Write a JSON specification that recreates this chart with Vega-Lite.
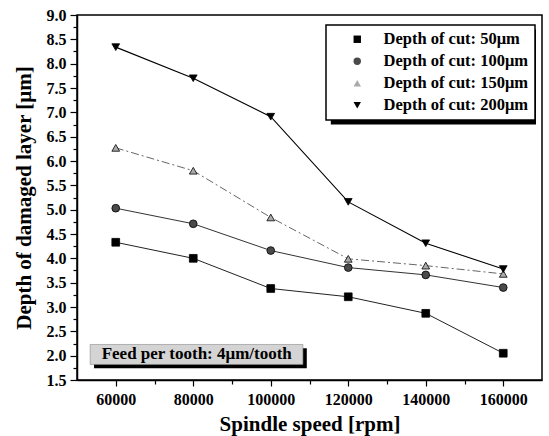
{
  "$schema": "https://vega.github.io/schema/vega-lite/v6.json",
  "width": 465,
  "height": 365,
  "autosize": {"type": "none"},
  "padding": {"left": 77, "top": 15, "right": 7, "bottom": 56},
  "background": "white",
  "config": {
    "font": "Liberation Serif",
    "view": {"stroke": "black", "strokeWidth": 1.5},
    "axis": {
      "grid": false,
      "domainColor": "black",
      "domainWidth": 1.5,
      "tickColor": "black",
      "tickWidth": 1.2,
      "labelFont": "Liberation Serif",
      "labelFontWeight": "bold",
      "labelFontSize": 16,
      "labelColor": "black",
      "titleFont": "Liberation Serif",
      "titleFontWeight": "bold",
      "titleFontSize": 21,
      "titleColor": "black"
    },
    "legend": {
      "padding": 6,
      "fillColor": "white",
      "strokeColor": "black",
      "strokeWidth": 1.5,
      "labelFont": "Liberation Serif",
      "labelFontWeight": "bold",
      "labelFontSize": 16.5,
      "labelColor": "black",
      "labelOffset": 18,
      "symbolOffset": 17,
      "rowPadding": 5,
      "symbolSize": 55,
      "symbolStrokeColor": "black",
      "symbolStrokeWidth": 0.8
    }
  },
  "datasets": {
    "depth": [
      {"speed": 60000, "cut": "Depth of cut: 50μm", "depth": 4.33},
      {"speed": 80000, "cut": "Depth of cut: 50μm", "depth": 4.0},
      {"speed": 100000, "cut": "Depth of cut: 50μm", "depth": 3.38},
      {"speed": 120000, "cut": "Depth of cut: 50μm", "depth": 3.21},
      {"speed": 140000, "cut": "Depth of cut: 50μm", "depth": 2.87},
      {"speed": 160000, "cut": "Depth of cut: 50μm", "depth": 2.05},
      {"speed": 60000, "cut": "Depth of cut: 100μm", "depth": 5.03},
      {"speed": 80000, "cut": "Depth of cut: 100μm", "depth": 4.71},
      {"speed": 100000, "cut": "Depth of cut: 100μm", "depth": 4.16},
      {"speed": 120000, "cut": "Depth of cut: 100μm", "depth": 3.81},
      {"speed": 140000, "cut": "Depth of cut: 100μm", "depth": 3.66},
      {"speed": 160000, "cut": "Depth of cut: 100μm", "depth": 3.4},
      {"speed": 60000, "cut": "Depth of cut: 150μm", "depth": 6.27},
      {"speed": 80000, "cut": "Depth of cut: 150μm", "depth": 5.8},
      {"speed": 100000, "cut": "Depth of cut: 150μm", "depth": 4.84},
      {"speed": 120000, "cut": "Depth of cut: 150μm", "depth": 3.99},
      {"speed": 140000, "cut": "Depth of cut: 150μm", "depth": 3.85},
      {"speed": 160000, "cut": "Depth of cut: 150μm", "depth": 3.68},
      {"speed": 60000, "cut": "Depth of cut: 200μm", "depth": 8.34},
      {"speed": 80000, "cut": "Depth of cut: 200μm", "depth": 7.7},
      {"speed": 100000, "cut": "Depth of cut: 200μm", "depth": 6.91},
      {"speed": 120000, "cut": "Depth of cut: 200μm", "depth": 5.16},
      {"speed": 140000, "cut": "Depth of cut: 200μm", "depth": 4.31},
      {"speed": 160000, "cut": "Depth of cut: 200μm", "depth": 3.78}
    ],
    "one": [{}]
  },
  "resolve": {"axis": {"x": "independent", "y": "independent"}},
  "layer": [
    {
      "description": "drop shadow behind the legend box",
      "data": {"name": "one"},
      "mark": {"type": "rect", "color": "black"},
      "encoding": {
        "x": {"datum": 115500, "type": "quantitative", "axis": null},
        "x2": {"datum": 168450},
        "y": {"datum": 8.7, "type": "quantitative", "axis": null},
        "y2": {"datum": 6.75}
      }
    },
    {
      "description": "drop shadow of the feed note",
      "data": {"name": "one"},
      "mark": {"type": "rect", "color": "black"},
      "encoding": {
        "x": {"datum": 54400, "type": "quantitative", "axis": null},
        "x2": {"datum": 109300},
        "y": {"datum": 2.15, "type": "quantitative", "axis": null},
        "y2": {"datum": 1.74}
      }
    },
    {
      "description": "feed note box",
      "data": {"name": "one"},
      "mark": {"type": "rect", "fill": "#d4d4d4", "stroke": "#888", "strokeWidth": 0.6},
      "encoding": {
        "x": {"datum": 53400, "type": "quantitative", "axis": null},
        "x2": {"datum": 108300},
        "y": {"datum": 2.23, "type": "quantitative", "axis": null},
        "y2": {"datum": 1.82}
      }
    },
    {
      "data": {"name": "one"},
      "mark": {"type": "text", "text": "Feed per tooth: 4μm/tooth", "font": "Liberation Serif", "fontWeight": "bold", "fontSize": 17, "color": "black", "align": "center", "baseline": "middle"},
      "encoding": {
        "x": {"datum": 80900, "type": "quantitative", "axis": null},
        "y": {"datum": 2.03, "type": "quantitative", "axis": null}
      }
    },
    {
      "description": "50 um series; also carries the minor tick marks",
      "data": {"name": "depth"},
      "transform": [{"filter": "datum.cut == 'Depth of cut: 50μm'"}],
      "mark": {"type": "line", "strokeWidth": 1, "color": "#222222"},
      "encoding": {
        "x": {
          "field": "speed",
          "type": "quantitative",
          "scale": {"domain": [50000, 170000], "nice": false, "zero": false},
          "axis": {
            "orient": "bottom",
            "values": [70000, 90000, 110000, 130000, 150000],
            "labels": false,
            "domain": false,
            "title": null,
            "tickSize": 4
          }
        },
        "y": {
          "field": "depth",
          "type": "quantitative",
          "scale": {"domain": [1.5, 9.0], "nice": false, "zero": false},
          "axis": {
            "orient": "left",
            "values": [1.75, 2.25, 2.75, 3.25, 3.75, 4.25, 4.75, 5.25, 5.75, 6.25, 6.75, 7.25, 7.75, 8.25, 8.75],
            "labels": false,
            "domain": false,
            "title": null,
            "tickSize": 4
          }
        }
      }
    },
    {
      "data": {"name": "depth"},
      "transform": [{"filter": "datum.cut == 'Depth of cut: 100μm'"}],
      "mark": {"type": "line", "strokeWidth": 1, "color": "#333333"},
      "encoding": {
        "x": {"field": "speed", "type": "quantitative", "axis": null},
        "y": {"field": "depth", "type": "quantitative", "axis": null}
      }
    },
    {
      "data": {"name": "depth"},
      "transform": [{"filter": "datum.cut == 'Depth of cut: 150μm'"}],
      "mark": {"type": "line", "strokeWidth": 1, "color": "#666666", "strokeDash": [8, 3, 2, 3]},
      "encoding": {
        "x": {"field": "speed", "type": "quantitative", "axis": null},
        "y": {"field": "depth", "type": "quantitative", "axis": null}
      }
    },
    {
      "data": {"name": "depth"},
      "transform": [{"filter": "datum.cut == 'Depth of cut: 200μm'"}],
      "mark": {"type": "line", "strokeWidth": 1.1, "color": "#000000"},
      "encoding": {
        "x": {"field": "speed", "type": "quantitative", "axis": null},
        "y": {"field": "depth", "type": "quantitative", "axis": null}
      }
    },
    {
      "data": {"name": "depth"},
      "mark": {"type": "point", "filled": true, "stroke": "black", "strokeWidth": 0.8, "opacity": 1},
      "encoding": {
        "x": {
          "field": "speed",
          "type": "quantitative",
          "title": "Spindle speed [rpm]",
          "axis": {
            "orient": "bottom",
            "values": [60000, 80000, 100000, 120000, 140000, 160000],
            "format": "d",
            "tickSize": 6,
            "labelPadding": 5,
            "titlePadding": 6
          }
        },
        "y": {
          "field": "depth",
          "type": "quantitative",
          "title": "Depth of damaged layer [μm]",
          "axis": {
            "orient": "left",
            "values": [1.5, 2, 2.5, 3, 3.5, 4, 4.5, 5, 5.5, 6, 6.5, 7, 7.5, 8, 8.5, 9],
            "format": ".1f",
            "tickSize": 7,
            "labelPadding": 4,
            "titlePadding": 12
          }
        },
        "shape": {
          "field": "cut",
          "type": "nominal",
          "title": null,
          "legend": {"orient": "none", "legendX": 249, "legendY": 10},
          "scale": {
            "domain": ["Depth of cut: 50μm", "Depth of cut: 100μm", "Depth of cut: 150μm", "Depth of cut: 200μm"],
            "range": ["square", "circle", "triangle-up", "triangle-down"]
          }
        },
        "fill": {
          "field": "cut",
          "type": "nominal",
          "title": null,
          "legend": {"orient": "none", "legendX": 249, "legendY": 10},
          "scale": {
            "domain": ["Depth of cut: 50μm", "Depth of cut: 100μm", "Depth of cut: 150μm", "Depth of cut: 200μm"],
            "range": ["#000000", "#4a4a4a", "#aaaaaa", "#000000"]
          }
        },
        "size": {"value": 60}
      }
    }
  ]
}
